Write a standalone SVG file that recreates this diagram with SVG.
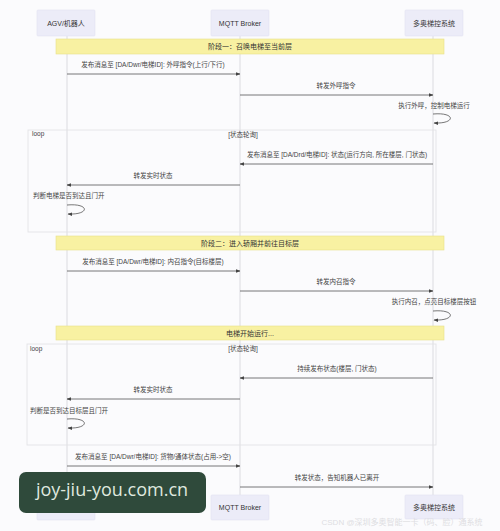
<svg xmlns="http://www.w3.org/2000/svg" width="500" height="531" viewBox="0 0 500 531">
<defs>
<style>
.actor{fill:#ececf8;stroke:#e2e2f2;stroke-width:0.6}
.atxt{font-family:"Liberation Sans","Noto Sans CJK SC",sans-serif;font-size:7px;fill:#333;text-anchor:middle;dominant-baseline:central}
.life{stroke:#d4d4d8;stroke-width:0.8}
.note{fill:#f8f1a2;stroke:#e8e08a;stroke-width:0.6}
.ntxt{font-family:"Liberation Sans","Noto Sans CJK SC",sans-serif;font-size:7px;fill:#333;text-anchor:middle;dominant-baseline:central}
.msg{stroke:#555;stroke-width:0.8;fill:none}
.mtxt{font-family:"Liberation Sans","Noto Sans CJK SC",sans-serif;font-size:6.5px;fill:#444;text-anchor:middle}
.ltxt{font-family:"Liberation Sans","Noto Sans CJK SC",sans-serif;font-size:6.5px;fill:#444}
.frame{fill:none;stroke:#e0e0e4;stroke-width:0.8}
</style>
<marker id="ah" viewBox="0 0 10 10" refX="9" refY="5" markerWidth="6" markerHeight="6" orient="auto-start-reverse">
<path d="M0,1 L10,5 L0,9 z" fill="#444"/>
</marker>
</defs>
<rect width="500" height="531" fill="#fbfbfd"/>
<g id="lifelines">
<line class="life" x1="67" y1="36" x2="67" y2="495"/>
<line class="life" x1="240" y1="36" x2="240" y2="495"/>
<line class="life" x1="433" y1="36" x2="433" y2="495"/>
</g>
<g id="frames">
<rect class="frame" x="28" y="130" width="408" height="102"/>
<text class="ltxt" x="32" y="136">loop</text>
<text class="ltxt" x="243" y="137" text-anchor="middle">[状态轮询]</text>
<rect class="frame" x="27" y="344" width="409" height="101"/>
<text class="ltxt" x="30" y="351">loop</text>
<text class="ltxt" x="243" y="351" text-anchor="middle">[状态轮询]</text>
</g>
<g id="notes">
<g id="note1"><rect class="note" x="56" y="39" width="388" height="15"/><text class="ntxt" x="250" y="46.5">阶段一：召唤电梯至当前层</text></g>
<g id="note2"><rect class="note" x="56" y="236" width="388" height="14"/><text class="ntxt" x="250" y="243">阶段二：进入轿厢并前往目标层</text></g>
<g id="note3"><rect class="note" x="56" y="326" width="388" height="14"/><text class="ntxt" x="250" y="333">电梯开始运行...</text></g>
</g>
<g id="connectors">
<line class="msg" x1="67" y1="74" x2="240" y2="74" marker-end="url(#ah)"/>
<text class="mtxt" x="153" y="67">发布消息至 [DA/Dwr/电梯ID]: 外呼指令(上行/下行)</text>
<line class="msg" x1="240" y1="95" x2="433" y2="95" marker-end="url(#ah)"/>
<text class="mtxt" x="336" y="88">转发外呼指令</text>
<text class="mtxt" x="434" y="108">执行外呼，控制电梯运行</text>
<path class="msg" d="M433,114 C456,112 456,124 434,123" marker-end="url(#ah)"/>
<line class="msg" x1="433" y1="164" x2="240" y2="164" marker-end="url(#ah)"/>
<text class="mtxt" x="337" y="157">发布消息至 [DA/Drd/电梯ID]: 状态(运行方向, 所在楼层, 门状态)</text>
<line class="msg" x1="240" y1="185" x2="67" y2="185" marker-end="url(#ah)"/>
<text class="mtxt" x="153" y="178">转发实时状态</text>
<text class="ltxt" x="33" y="198">判断电梯是否到达且门开</text>
<path class="msg" d="M67,205 C90,203 90,215 68,214" marker-end="url(#ah)"/>
<line class="msg" x1="67" y1="271" x2="240" y2="271" marker-end="url(#ah)"/>
<text class="mtxt" x="153" y="264">发布消息至 [DA/Dwr/电梯ID]: 内召指令(目标楼层)</text>
<line class="msg" x1="240" y1="291" x2="433" y2="291" marker-end="url(#ah)"/>
<text class="mtxt" x="336" y="284">转发内召指令</text>
<text class="mtxt" x="434" y="304">执行内召，点亮目标楼层按钮</text>
<path class="msg" d="M433,311 C456,309 456,321 434,320" marker-end="url(#ah)"/>
<line class="msg" x1="433" y1="378" x2="240" y2="378" marker-end="url(#ah)"/>
<text class="mtxt" x="337" y="371">持续发布状态(楼层, 门状态)</text>
<line class="msg" x1="240" y1="399" x2="67" y2="399" marker-end="url(#ah)"/>
<text class="mtxt" x="153" y="392">转发实时状态</text>
<text class="ltxt" x="30" y="413">判断是否到达目标层且门开</text>
<path class="msg" d="M67,419 C90,417 90,429 68,428" marker-end="url(#ah)"/>
<line class="msg" x1="67" y1="466" x2="240" y2="466" marker-end="url(#ah)"/>
<text class="mtxt" x="153" y="459">发布消息至 [DA/Dwr/电梯ID]: 货物/通体状态(占用->空)</text>
<line class="msg" x1="240" y1="487" x2="433" y2="487" marker-end="url(#ah)"/>
<text class="mtxt" x="337" y="480">转发状态，告知机器人已离开</text>
</g>
<g id="agv-top"><rect class="actor" x="37" y="10" width="58" height="26" rx="1"/><text class="atxt" x="66" y="23">AGV/机器人</text></g>
<g id="mqtt-top"><rect class="actor" x="211" y="10" width="58" height="26" rx="1"/><text class="atxt" x="240" y="23">MQTT Broker</text></g>
<g id="sys-top"><rect class="actor" x="405" y="10" width="58" height="26" rx="1"/><text class="atxt" x="434" y="23">多奥梯控系统</text></g>
<g id="agv-bottom"><rect class="actor" x="37" y="495" width="58" height="25" rx="1"/><text class="atxt" x="66" y="508">AGV/机器人</text></g>
<g id="mqtt-bottom"><rect class="actor" x="211" y="495" width="58" height="25" rx="1"/><text class="atxt" x="240" y="507.5">MQTT Broker</text></g>
<g id="sys-bottom"><rect class="actor" x="405" y="495" width="58" height="24" rx="1"/><text class="atxt" x="434" y="507">多奥梯控系统</text></g>
<g id="watermark">
<rect x="19" y="472" width="187" height="41" rx="7" fill="#2f4a3b"/>
<text x="112" y="496" font-family="'Open Sans','DejaVu Sans',sans-serif" font-size="18" fill="#dfe8df" text-anchor="middle">joy-jiu-you.com.cn</text>
<text x="402" y="525" font-family="'Liberation Sans','Noto Sans CJK SC',sans-serif" font-size="8" fill="#dedee2" text-anchor="middle">CSDN @深圳多奥智能一卡（码、脸）通系统</text>
</g>
</svg>
